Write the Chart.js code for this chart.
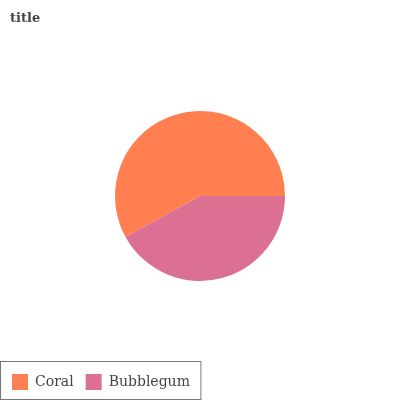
<!DOCTYPE html>
<html>
<head>
<meta charset="utf-8">
<style>
  html, body { margin: 0; padding: 0; background: #fff; }
  #wrap { width: 400px; height: 400px; position: relative; }
</style>
<script src="https://cdn.jsdelivr.net/npm/chart.js@4"></script>
</head>
<body>
<div id="wrap"><canvas id="c" width="400" height="400"></canvas></div>
<script>
const categories = ["Coral", "Bubblegum"];
const values = [58, 42];
const colors = ["#FF7F50", "#DB7093"];
const titleText = "title";

const total = values.reduce((a, b) => a + b, 0);
// Coral ends at 3 o'clock, drawn clockwise
const rotationDeg = 90 + 360 * values[1] / total;

const FONT = "'DejaVu Serif', serif";

const titlePlugin = {
  id: 'customTitle',
  afterDraw(chart) {
    const ctx = chart.ctx;
    ctx.save();
    ctx.font = "bold 13px " + FONT;
    ctx.fillStyle = "#444444";
    ctx.textBaseline = "alphabetic";
    ctx.textAlign = "left";
    ctx.fillText(titleText, 10, 22);
    ctx.restore();
  }
};

const legendBorder = {
  id: 'legendBorder',
  afterDraw(chart) {
    const lg = chart.legend;
    if (!lg || !lg.legendHitBoxes || !lg.legendHitBoxes.length) return;
    const hb = lg.legendHitBoxes;
    const last = hb[hb.length - 1];
    const right = last.left + last.width + 11;
    const ctx = chart.ctx;
    ctx.save();
    ctx.strokeStyle = "#777777";
    ctx.lineWidth = 1;
    ctx.strokeRect(0.5, lg.top - 0.5, right - 0.5, lg.bottom - lg.top);
    ctx.restore();
  }
};

new Chart(document.getElementById('c'), {
  type: 'pie',
  data: {
    labels: categories,
    datasets: [{
      data: values,
      backgroundColor: colors,
      borderWidth: 0,
      radius: 85
    }]
  },
  options: {
    responsive: false,
    animation: false,
    rotation: rotationDeg,
    layout: { padding: { top: 30, left: 0, right: 0, bottom: 0 } },
    plugins: {
      title: { display: false },
      tooltip: { enabled: false },
      legend: {
        display: true,
        position: 'bottom',
        align: 'start',
        labels: {
          boxWidth: 16,
          boxHeight: 16,
          padding: 12,
          color: "#444444",
          font: { family: FONT, size: 14 }
        }
      }
    }
  },
  plugins: [titlePlugin, legendBorder]
});
</script>
</body>
</html>
